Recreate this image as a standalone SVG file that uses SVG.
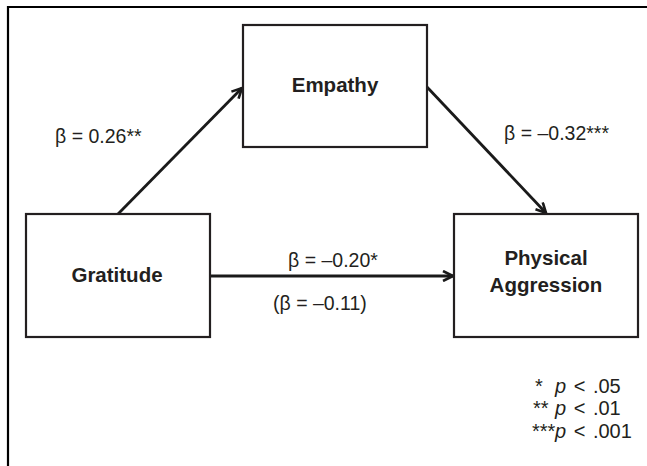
<svg xmlns="http://www.w3.org/2000/svg" width="647" height="466" viewBox="0 0 647 466">
<defs>
<marker id="arr" viewBox="0 0 12 12" refX="11" refY="6" markerWidth="12" markerHeight="12" markerUnits="userSpaceOnUse" orient="auto">
<path d="M1,1 L11,6 L1,11" fill="none" stroke="#1a1a1a" stroke-width="2.6" stroke-linejoin="miter"/>
</marker>
</defs>
<style>
.box{fill:#fff;stroke:#231f20;stroke-width:2.2}
.node{font-family:"Liberation Sans",Arial,sans-serif;font-weight:bold;font-size:20.5px;fill:#231f20;text-anchor:middle}
.lbl{font-family:"Liberation Sans",Arial,sans-serif;font-size:19.5px;fill:#231f20}
.leg{font-family:"Liberation Sans",Arial,sans-serif;font-size:20px;fill:#231f20}
.edge{stroke:#1a1a1a;stroke-width:2.8;fill:none;marker-end:url(#arr)}
</style>
<rect width="647" height="466" fill="#fff"/>
<path d="M8,466 V7 H647" fill="none" stroke="#000" stroke-width="2.2"/>
<g id="connectors">
<line class="edge" x1="118" y1="214" x2="242" y2="88"/>
<line class="edge" x1="427" y1="87" x2="546" y2="213"/>
<line class="edge" x1="210" y1="276" x2="453" y2="276"/>
</g>
<g id="empathy">
<rect class="box" x="243" y="25" width="184" height="122"/>
<text class="node" x="335" y="92">Empathy</text>
</g>
<g id="gratitude">
<rect class="box" x="26" y="214" width="184" height="123"/>
<text class="node" x="117" y="282">Gratitude</text>
</g>
<g id="aggression">
<rect class="box" x="454" y="214" width="184" height="123"/>
<text class="node" x="546" y="265">Physical</text>
<text class="node" x="546" y="292">Aggression</text>
</g>
<g id="labels">
<text class="lbl" x="55" y="143">β = 0.26**</text>
<text class="lbl" x="504" y="140">β = –0.32***</text>
<text class="lbl" x="288" y="267">β = –0.20*</text>
<text class="lbl" x="273" y="310">(β = –0.11)</text>
</g>
<g id="legend">
<text class="leg" x="535" y="393">*</text>
<text class="leg" x="555" y="393" word-spacing="2"><tspan font-style="italic">p</tspan> &lt; .05</text>
<text class="leg" x="533" y="415">**</text>
<text class="leg" x="555" y="415" word-spacing="2"><tspan font-style="italic">p</tspan> &lt; .01</text>
<text class="leg" x="532" y="438">***</text>
<text class="leg" x="555" y="438" word-spacing="2"><tspan font-style="italic">p</tspan> &lt; .001</text>
</g>
</svg>
